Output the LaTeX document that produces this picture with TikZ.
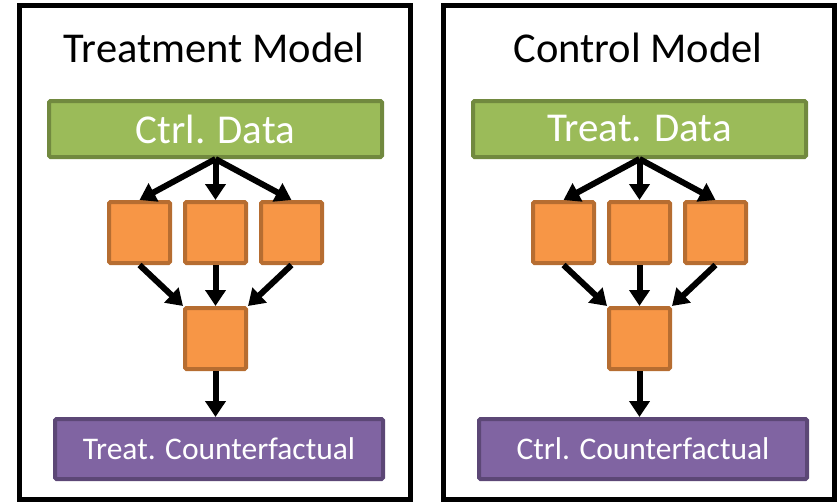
\documentclass[tikz,border=0pt]{standalone}
\usepackage{fontspec}
\setmainfont{Carlito}
\usetikzlibrary{arrows.meta}
\definecolor{gfill}{HTML}{9BBB59}
\definecolor{gline}{HTML}{71893F}
\definecolor{ofill}{HTML}{F79646}
\definecolor{oline}{HTML}{B66D31}
\definecolor{pfill}{HTML}{8064A2}
\definecolor{pline}{HTML}{5C4776}
\tikzset{
  frame/.style={draw=black, line width=5pt},
  title/.style={anchor=base, font=\fontsize{42.5}{50}\selectfont},
  databox/.style={draw=gline, fill=gfill, line width=4pt, rounded corners=1.5pt, minimum width=333pt, minimum height=56pt, inner sep=0pt, text=white, font=\fontsize{41}{50}\selectfont},
  learner/.style={draw=oline, fill=ofill, line width=4pt, rounded corners=1.5pt, minimum width=61pt, minimum height=61pt, inner sep=0pt},
  cfbox/.style={draw=pline, fill=pfill, line width=4pt, rounded corners=1.5pt, minimum width=328pt, minimum height=60pt, inner sep=0pt, text=white, font=\fontsize{31.5}{38}\selectfont},
  flow/.style={draw=black, line width=6pt, -{Triangle[width=20pt,length=16pt]}}
}
\begin{document}
\begin{tikzpicture}[x=1pt,y=-1pt]
\useasboundingbox (0,0) rectangle (838,503);
\foreach \o/\ttl/\dat/\cf/\p in {0/Treatment Model/Ctrl. Data/Treat. Counterfactual/L, 424/Control Model/Treat. Data/Ctrl. Counterfactual/R}{
  \begin{scope}[xshift=\o pt]
    \draw[frame] (19.5,5.5) rectangle (410.5,499.5);
    \node[title] (t\p) at (214,63) {\ttl};
    \node[databox] (g\p) at (215.5,129) {\dat};
    \node[learner] (a\p) at (139.5,232.5) {};
    \node[learner] (b\p) at (215.5,232.5) {};
    \node[learner] (c\p) at (291.5,232.5) {};
    \node[learner] (m\p) at (215.5,338.5) {};
    \node[cfbox] (p\p) at (219,449) {\cf};
    \draw[flow] (g\p.south) -- (a\p.north);
    \draw[flow] (g\p.south) -- (b\p.north);
    \draw[flow] (g\p.south) -- (c\p.north);
    \draw[flow] (a\p.south) -- (m\p.north west);
    \draw[flow] (b\p.south) -- (m\p.north);
    \draw[flow] (c\p.south) -- (m\p.north east);
    \draw[flow] (m\p.south) -- (m\p.south |- p\p.north);
  \end{scope}
}
\end{tikzpicture}
\end{document}
